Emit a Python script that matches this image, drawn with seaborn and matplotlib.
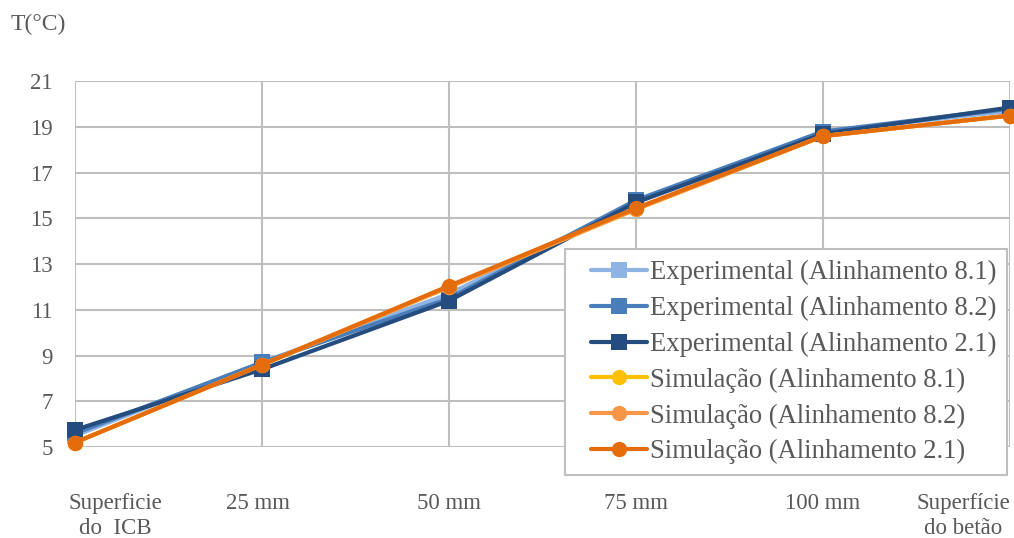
import matplotlib
matplotlib.use("Agg")
import matplotlib.pyplot as plt
import matplotlib.transforms as mtransforms
from matplotlib.lines import Line2D
from matplotlib.legend_handler import HandlerLine2D
import seaborn as sns
import pandas as pd

categories = ["Superficie\ndo  ICB", "25 mm", "50 mm", "75 mm", "100 mm", "Superfície\ndo betão"]
exp_81 = [5.5, 8.7, 11.7, 15.7, 18.8, 19.7]
exp_82 = [5.6, 8.7, 11.5, 15.8, 18.8, 19.8]
exp_21 = [5.75, 8.4, 11.4, 15.7, 18.7, 19.85]
sim_81 = [5.2, 8.6, 12.0, 15.4, 18.6, 19.5]
sim_82 = [5.2, 8.6, 12.0, 15.4, 18.6, 19.5]
sim_21 = [5.2, 8.6, 12.05, 15.45, 18.6, 19.5]

series = [
    ("Experimental (Alinhamento 8.1)", exp_81, "#8FB4E3", "s"),
    ("Experimental (Alinhamento 8.2)", exp_82, "#4A7EBB", "s"),
    ("Experimental (Alinhamento 2.1)", exp_21, "#254C7F", "s"),
    ("Simulação (Alinhamento 8.1)", sim_81, "#FFC000", "o"),
    ("Simulação (Alinhamento 8.2)", sim_82, "#F79646", "o"),
    ("Simulação (Alinhamento 2.1)", sim_21, "#E46C0A", "o"),
]

SERIF = ["Liberation Serif", "DejaVu Serif"]
sns.set_theme(style="white")
plt.rcParams["font.family"] = SERIF

fig = plt.figure(figsize=(10.14, 5.38), dpi=100)
ax = fig.add_axes([0.074, 0.169, 0.922, 0.68])

for name, vals, col, mk in series:
    df = pd.DataFrame({"x": list(range(len(categories))), "T": vals})
    sns.lineplot(data=df, x="x", y="T", ax=ax, color=col, marker=mk,
                 markersize=11, linewidth=3, markeredgewidth=0, label=name,
                 clip_on=False, zorder=3)

ax.set_xlim(0, 5)
ax.set_ylim(5, 21)
ax.set_yticks(range(5, 22, 2))
ax.set_xticks(range(len(categories)))
ax.set_xticklabels(categories, linespacing=1.25, family=SERIF)
ax.set_yticklabels([str(v) for v in range(5, 22, 2)], family=SERIF)
ax.set_xlabel("")
ax.set_ylabel("")
ax.grid(True, color="#BFBFBF", linewidth=1.5)
ax.set_axisbelow(True)
for s in ax.spines.values():
    s.set_visible(False)
ax.tick_params(axis="both", length=0, labelsize=16.5, labelcolor="#595959")
ax.tick_params(axis="x", pad=33)
ax.tick_params(axis="y", pad=16)

# shift edge category labels to stay inside the figure
labels = ax.get_xticklabels()
labels[0].set_transform(labels[0].get_transform() + mtransforms.ScaledTranslation(0.40, 0, fig.dpi_scale_trans))
labels[-1].set_transform(labels[-1].get_transform() + mtransforms.ScaledTranslation(-0.47, 0, fig.dpi_scale_trans))
labels[1].set_transform(labels[1].get_transform() + mtransforms.ScaledTranslation(-0.04, 0, fig.dpi_scale_trans))

fig.text(0.010, 0.955, "T(°C)", fontsize=17, color="#595959", va="center", ha="left")

leg = ax.legend(loc="lower right", bbox_to_anchor=(1007 / 1014, 1 - 475 / 538),
                bbox_transform=fig.transFigure, fontsize=19.2,
                frameon=True, fancybox=False, framealpha=1, edgecolor="#BFBFBF",
                handlelength=2.7, handletextpad=0.1, labelspacing=0.4,
                borderpad=0.4, borderaxespad=0,
                handler_map={Line2D: HandlerLine2D(xpad=0.6)})
leg.get_frame().set_linewidth(1.5)
for t in leg.get_texts():
    t.set_color("#595959")
leg.set_zorder(5)

fig.savefig("out.png", dpi=100)
